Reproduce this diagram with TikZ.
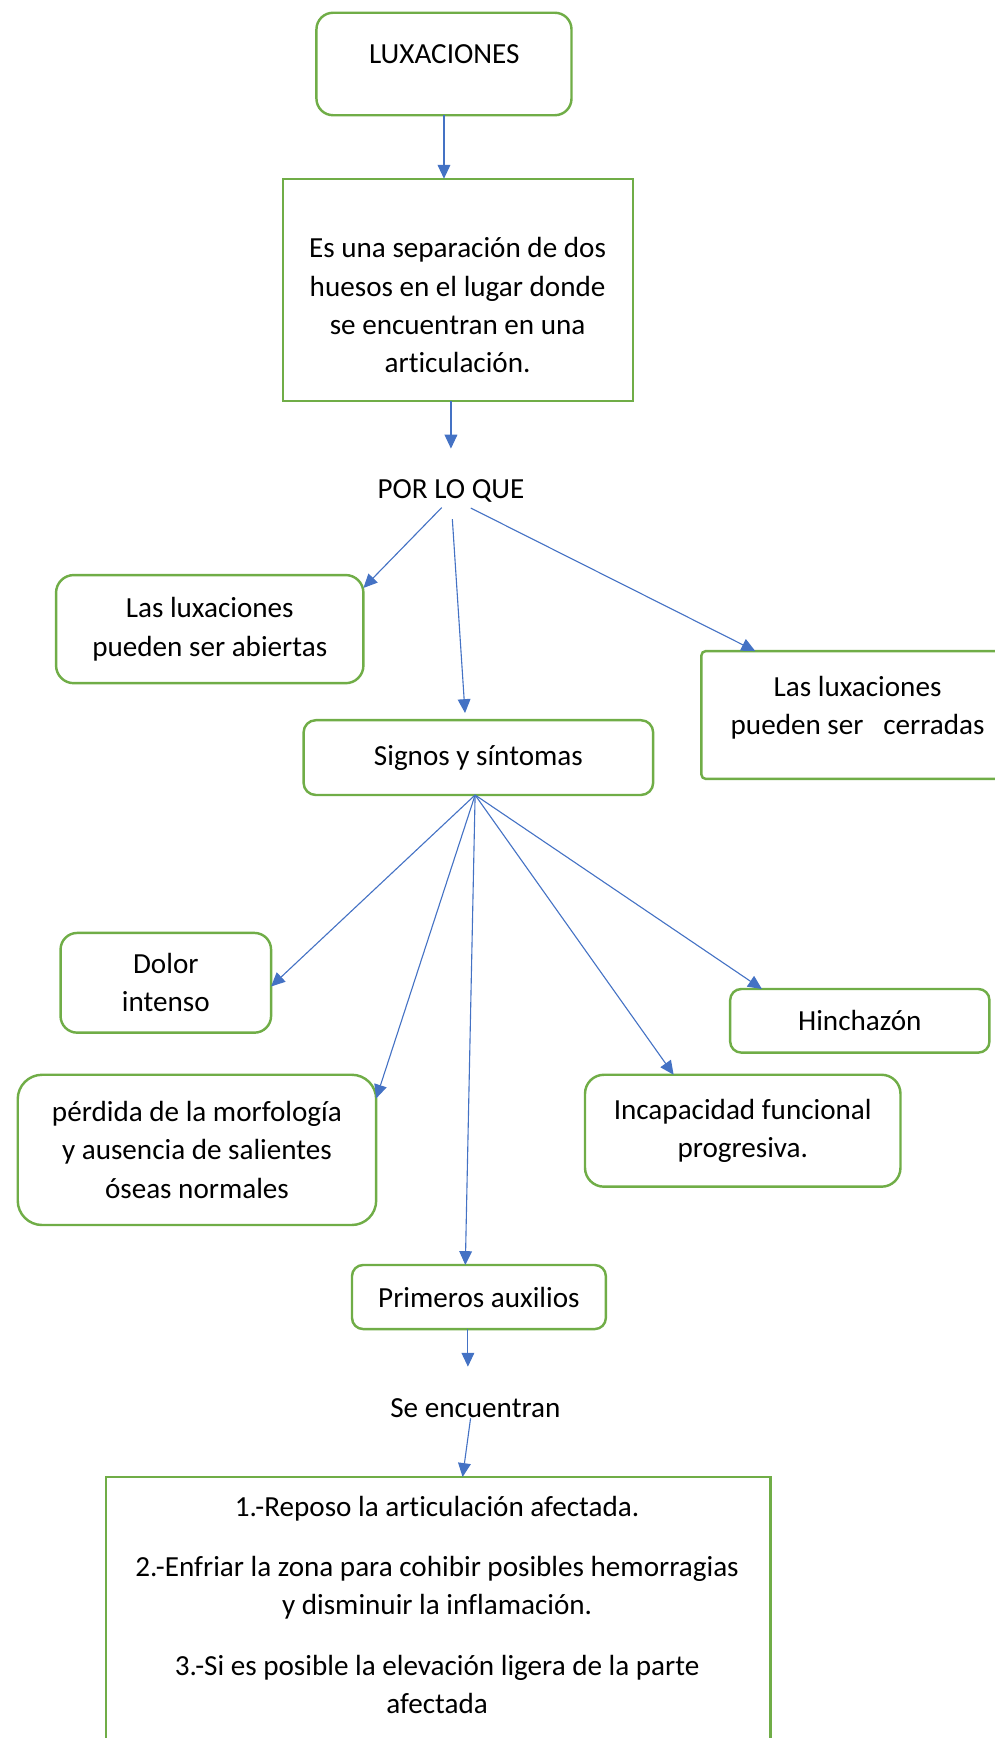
\documentclass[tikz,border=0pt]{standalone}
\usepackage{fontspec}
\setmainfont{Carlito}[Ligatures=NoCommon]
\usetikzlibrary{arrows.meta}
\definecolor{boxgreen}{HTML}{70AD47}
\definecolor{linkblue}{HTML}{4472C4}

\begin{document}
\begin{tikzpicture}[x=1pt, y=-1pt,
    every node/.style={font=\fontsize{26.3}{34.6}\selectfont, inner sep=0pt, outer sep=0pt, align=center},
    roundbox/.style={draw=boxgreen, line width=2.2pt, rounded corners=#1},
    roundbox/.default=15pt,
    squarebox/.style={draw=boxgreen, line width=2.2pt},
    plain/.style={text depth=0pt},
    arrow/.style={draw=linkblue, line width=1pt, -{Triangle[length=12.5pt, width=11.5pt]}}]
    \useasboundingbox (0,0) rectangle (898,1568.6);
    \clip (0,0) rectangle (898,1568.6);

    \node[roundbox, minimum width=230.2pt, minimum height=92.5pt](lux) at (400.7, 57.75){};
    \node[plain](luxtext) at (401, 48.5){LUXACIONES};

    \node[squarebox, minimum width=316pt, minimum height=200.7pt](defin) at (413.5, 261.65){};
    \node[](defintext) at (413, 275.5){Es una separación de dos\\huesos en el lugar donde\\se encuentran en una\\articulación.};

    \node[plain](plq) at (407, 441){POR LO QUE};

    \node[roundbox=16pt, minimum width=277.4pt, minimum height=97.6pt](abiertas) at (189.3, 567.8){Las luxaciones\\pueden ser abiertas};
    \node[roundbox=4pt, minimum width=282pt, minimum height=115.4pt](cerradas) at (774, 645.3){};
    \node[](cerradastext) at (774, 639){Las luxaciones\\pueden ser\ \ \ cerradas};

    \node[roundbox=11pt, minimum width=315.5pt, minimum height=67.5pt](signos) at (431.75, 683.75){Signos y síntomas};

    % signos
    \node[roundbox, minimum width=190pt, minimum height=90pt](dolor) at (149.65, 887){Dolor\\intenso};
    \node[roundbox=10pt, minimum width=234pt, minimum height=57.4pt](hinch) at (776, 921.3){Hinchazón};
    \node[roundbox=22pt, minimum width=323.5pt, minimum height=135.6pt](perdida) at (177.75, 1037.8){pérdida de la morfología\\y ausencia de salientes\\óseas normales};
    \node[roundbox=17pt, minimum width=284.7pt, minimum height=101pt](incap) at (670.35, 1020.5){Incapacidad funcional\\progresiva.};

    \node[roundbox=10pt, minimum width=229.1pt, minimum height=57.8pt](primeros) at (432.25, 1170.6){Primeros auxilios};
    \node[plain](se) at (429, 1270.5){Se encuentran};

    \node[squarebox, minimum width=599.7pt, minimum height=250pt](medidas) at (395.45, 1458){};
    \node[](medidastext) at (394.5, 1448.5){1.-Reposo la articulación afectada.\\[20pt]2.-Enfriar la zona para cohibir posibles hemorragias\\y disminuir la inflamación.\\[20pt]3.-Si es posible la elevación ligera de la parte\\afectada};

    \draw[arrow] (lux.south) -- (lux.south |- defin.north);
    \draw[arrow, shorten >=27.6pt] (plq.north |- defin.south) -- (plq.north);

    % path 1
    \draw[arrow, shorten <=12pt] (plq.south) -- (abiertas.15);
    \draw[arrow, shorten <=19pt, shorten >=6.5pt] (plq.south) -- (signos.109);
    \draw[arrow, shorten <=20pt] (plq.south) -- (cerradas.148);

    % path 2
    \draw[arrow] (signos.-95) -- (dolor.-2);
    \draw[arrow] (signos.-95) -- (perdida.16);
    \draw[arrow] (signos.-95) -- (primeros.113);
    \draw[arrow] (signos.-95) -- (incap.141);
    \draw[arrow] (signos.-95) -- (hinch.162);

    \draw[arrow, shorten >=28.5pt] (primeros.-109) -- (primeros.-109 |- se.north);
    \draw[arrow, shorten <=1pt] (se.-116) -- (medidas.80);
\end{tikzpicture}
\end{document}
